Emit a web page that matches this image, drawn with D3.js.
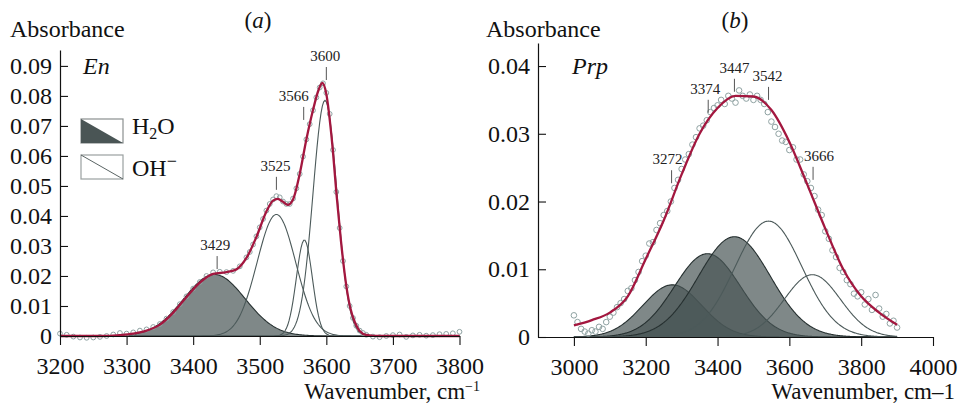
<!DOCTYPE html>
<html>
<head>
<meta charset="utf-8">
<script src="https://cdn.jsdelivr.net/npm/d3@7"></script>
<style>
  body { margin: 0; background: #fff; }
  svg { display: block; }
</style>
</head>
<body>
<div id="chart"></div>
<script>
// ---- data ----

// (a) En : fitted bands (centre cm-1, height, sigma cm-1)
const bandCentreA = [3432, 3525, 3567, 3598];
const bandHeightA = [0.0205, 0.0405, 0.032, 0.0785];
const bandSigmaA = [46, 29, 12, 18];
const bandKindA = ['H2O', 'OH', 'OH', 'OH'];

// (b) Prp : fitted bands
const bandCentreB = [3274, 3372, 3447, 3542, 3664];
const bandHeightB = [0.0077, 0.0123, 0.0148, 0.0171, 0.0092];
const bandSigmaB = [82, 92, 100, 93, 78];
const bandKindB = ['H2O', 'H2O', 'H2O', 'OH', 'OH'];

// peak marks: label, wavenumber, absorbance where the mark ends
const peakLabelA = ['3429', '3525', '3566', '3600'];
const peakWaveA = [3436, 3525, 3566, 3600];
const peakLevelA = [0.0223, 0.0487, 0.072, 0.0853];

const peakLabelB = ['3272', '3374', '3447', '3542', '3666'];
const peakWaveB = [3272, 3374, 3447, 3542, 3666];
const peakLevelB = [0.0227, 0.0331, 0.0362, 0.035, 0.0232];

// envelope of the fit (red)
const fitA = [[3200, 0], [3260, 0], [3290, 0.0003], [3310, 0.0008], [3330, 0.0018], [3350, 0.0038],
  [3370, 0.0078], [3390, 0.0130], [3410, 0.0178], [3430, 0.0207], [3450, 0.0213], [3465, 0.0222],
  [3480, 0.0260], [3495, 0.0330], [3510, 0.0415], [3520, 0.0451], [3527, 0.0457], [3535, 0.0447],
  [3542, 0.0437], [3550, 0.0455], [3560, 0.0540], [3570, 0.0655], [3580, 0.0753], [3588, 0.0818],
  [3594, 0.0843], [3600, 0.0806], [3608, 0.0660], [3616, 0.0455], [3622, 0.0316], [3630, 0.0167],
  [3636, 0.0093], [3643, 0.0045], [3650, 0.0017], [3660, 0.0004], [3680, 0], [3800, 0]];

const fitB = [[3000, 0.0017], [3050, 0.0025], [3100, 0.0036], [3150, 0.0060], [3200, 0.0115],
  [3250, 0.0172], [3300, 0.0240], [3350, 0.0300], [3400, 0.0338], [3450, 0.0356], [3500, 0.0355],
  [3550, 0.0335], [3600, 0.0288], [3650, 0.0225], [3700, 0.0160], [3750, 0.0100], [3800, 0.0060],
  [3850, 0.0036], [3900, 0.0018]];

// measured spectrum (grey circles)
const obsA = [[3200, .0008], [3210, .0004], [3220, -.0002], [3230, -.0005], [3240, -.0006], [3250, -.0005],
  [3260, -.0003], [3270, 0], [3280, .0005], [3290, .0010], [3300, .0008], [3310, .0012], [3320, .0018],
  [3330, .0022], [3340, .0030], [3350, .0040], [3360, .0058], [3370, .0080], [3380, .0106], [3390, .0132],
  [3400, .0158], [3410, .0180], [3420, .0200], [3430, .0212], [3440, .0214], [3450, .0213], [3460, .0217],
  [3470, .0232], [3480, .0262], [3485, .0280], [3490, .0305], [3495, .0332], [3500, .0362], [3505, .0390],
  [3510, .0418], [3515, .0440], [3520, .0455], [3525, .0466], [3530, .0462], [3535, .0448], [3540, .0440],
  [3545, .0440], [3550, .0458], [3555, .0492], [3560, .0540], [3565, .0598], [3570, .0655], [3575, .0706],
  [3580, .0752], [3585, .0795], [3590, .0828], [3595, .0842], [3600, .0810], [3605, .0740], [3610, .0620],
  [3615, .0480], [3620, .0360], [3625, .0250], [3630, .0165], [3635, .0100], [3640, .0060], [3645, .0034],
  [3650, .0018], [3655, .0010], [3660, .0004], [3670, -.0002], [3680, -.0004], [3690, 0], [3700, .0003],
  [3710, .0005], [3720, -.0003], [3730, .0002], [3740, .0004], [3750, .0001], [3760, .0003], [3770, .0006],
  [3780, .0007], [3790, .0009], [3800, .0014]];

const obsB = [[3000, .0032], [3010, .0022], [3020, .0012], [3030, .0008], [3040, .0005], [3050, .0010],
  [3060, .0008], [3070, .0015], [3080, .0012], [3090, .0022], [3100, .0030], [3110, .0036], [3120, .0044],
  [3130, .0050], [3140, .0056], [3150, .0068], [3160, .0072], [3170, .0084], [3180, .0096], [3190, .0112],
  [3200, .0120], [3210, .0138], [3220, .0140], [3230, .0158], [3240, .0168], [3250, .0180], [3260, .0186],
  [3270, .0200], [3280, .0220], [3290, .0232], [3300, .0248], [3310, .0262], [3320, .0270], [3330, .0284],
  [3340, .0295], [3350, .0308], [3360, .0312], [3370, .0320], [3380, .0332], [3390, .0338], [3400, .0342],
  [3410, .0350], [3420, .0344], [3430, .0356], [3440, .0352], [3450, .0346], [3460, .0364], [3470, .0356],
  [3480, .0352], [3490, .0358], [3500, .0350], [3510, .0356], [3520, .0350], [3530, .0344], [3540, .0332],
  [3550, .0318], [3560, .0310], [3570, .0300], [3580, .0290], [3590, .0288], [3600, .0276], [3610, .0280],
  [3620, .0262], [3630, .0262], [3640, .0240], [3650, .0230], [3660, .0220], [3670, .0208], [3680, .0188],
  [3690, .0180], [3700, .0156], [3710, .0145], [3720, .0128], [3730, .0118], [3740, .0102], [3750, .0096],
  [3760, .0084], [3770, .0078], [3780, .0064], [3790, .0060], [3800, .0066], [3810, .0048], [3820, .0056],
  [3830, .0040], [3840, .0062], [3850, .0042], [3860, .0030], [3870, .0034], [3880, .0020], [3890, .0024],
  [3900, .0014]];

// axis ticks
const xTicksA = d3.range(3200, 3801, 100);
const yTicksA = [0, 0.01, 0.02, 0.03, 0.04, 0.05, 0.06, 0.07, 0.08, 0.09];
const xTicksB = d3.range(3000, 4001, 200);
const yTicksB = [0, 0.01, 0.02, 0.03, 0.04];

// ---- drawing ----
const w = 958;
const h = 404;
const red = '#a3173f';
const bandFill = '#485656';
const serif = 'Liberation Serif';

const svg = d3.select('#chart').append('svg')
  .attr('width', w)
  .attr('height', h);

// every text gets the font set on itself
const txt = (sel, size) => sel.append('text')
  .style('font-family', serif)
  .attr('font-size', size)
  .attr('fill', '#111');

const gauss = (c, a, s) => x => a * Math.exp(-((x - c) * (x - c)) / (2 * s * s));

function drawPanel(p) {
  const x = d3.scaleLinear().domain(p.xDomain).range(p.xRange);
  const y = d3.scaleLinear().domain(p.yDomain).range(p.yRange);
  const g = svg.append('g');

  // bands
  const grid = d3.range(p.bandSpan[0], p.bandSpan[1] + 0.1, 2);
  const area = d3.area().x(d => x(d[0])).y0(y(0)).y1(d => y(d[1]));
  const line = d3.line().x(d => x(d[0])).y(d => y(d[1]));
  p.centres.forEach((c, i) => {
    const f = gauss(c, p.heights[i], p.sigmas[i]);
    const pts = grid.map(v => [v, f(v)]);
    if (p.kinds[i] === 'H2O') {
      g.append('path').datum(pts)
        .attr('d', area)
        .attr('fill', bandFill)
        .attr('fill-opacity', 0.7);
    }
    g.append('path').datum(pts)
      .attr('d', line)
      .attr('fill', 'none')
      .attr('stroke', p.kinds[i] === 'H2O' ? '#263030' : '#4c5a5a')
      .attr('stroke-width', 1.1);
  });

  // measured points
  g.selectAll('circle.obs')
    .data(p.obs)
    .join('circle')
    .attr('class', 'obs')
    .attr('cx', d => x(d[0]))
    .attr('cy', d => y(d[1]))
    .attr('r', p.r)
    .attr('fill', 'none')
    .attr('stroke', '#8fa2a2')
    .attr('stroke-width', 1);

  // fit envelope
  g.append('path').datum(p.fit)
    .attr('d', d3.line().curve(d3.curveMonotoneX).x(d => x(d[0])).y(d => y(d[1])))
    .attr('fill', 'none')
    .attr('stroke', red)
    .attr('stroke-width', 2.3);

  // axes
  const xAxis = d3.axisBottom(x).tickValues(p.xTicks).tickFormat(d3.format('d'))
    .tickSizeInner(9).tickSizeOuter(0).tickPadding(12);
  const yAxis = d3.axisLeft(y).tickValues(p.yTicks).tickFormat(d => d === 0 ? '0' : d.toFixed(2))
    .tickSizeInner(-8).tickSizeOuter(0).tickPadding(8);

  g.append('g')
    .attr('transform', `translate(0,${y(0)})`)
    .call(xAxis);
  g.append('g')
    .attr('transform', `translate(${p.xRange[0]},0)`)
    .call(yAxis);

  g.selectAll('.domain').attr('stroke', '#111').attr('stroke-width', 1.2);
  g.selectAll('.tick line').attr('stroke', '#111').attr('stroke-width', 1.1);
  g.selectAll('.tick text')
    .style('font-family', serif)
    .attr('font-size', 24)
    .attr('fill', '#111');

  // peak marks
  p.peakLabels.forEach((lab, i) => {
    const px = x(p.peakWaves[i]);
    const yb = y(p.peakLevels[i]);
    g.append('line')
      .attr('x1', px).attr('x2', px)
      .attr('y1', yb).attr('y2', yb - 13)
      .attr('stroke', '#555')
      .attr('stroke-width', 1);
    txt(g, 15)
      .attr('x', px + (p.labelShift[i] || 0))
      .attr('y', yb - 19)
      .attr('text-anchor', 'middle')
      .attr('fill', '#222')
      .text(lab);
  });

  // titles
  txt(g, 24).attr('x', p.absX).attr('y', 37).text('Absorbance');

  const t = txt(g, 23).attr('x', p.panelX).attr('y', 28).attr('text-anchor', 'middle');
  t.append('tspan').text('(');
  t.append('tspan').attr('font-style', 'italic').text(p.panel);
  t.append('tspan').text(')');

  txt(g, 24).attr('x', p.nameX).attr('y', 74).attr('font-style', 'italic').text(p.name);

  const wt = txt(g, 23).attr('x', p.wnX).attr('y', 399).attr('text-anchor', 'end');
  if (p.superUnit) {
    wt.append('tspan').text('Wavenumber, cm');
    wt.append('tspan').attr('font-size', 14).attr('dy', -8).text('\u22121');
  } else {
    wt.text('Wavenumber, cm\u20131');
  }
}

drawPanel({
  xDomain: [3200, 3800], xRange: [60, 459.5],
  yDomain: [0, 0.0953], yRange: [336, 50],
  bandSpan: [3200, 3800],
  centres: bandCentreA, heights: bandHeightA, sigmas: bandSigmaA, kinds: bandKindA,
  obs: obsA, fit: fitA, r: 2.4,
  xTicks: xTicksA, yTicks: yTicksA,
  peakLabels: peakLabelA, peakWaves: peakWaveA, peakLevels: peakLevelA,
  labelShift: [-2, -1, -10, -1],
  absX: 10, panelX: 258, panel: 'a', nameX: 83, name: 'En',
  wnX: 480, superUnit: true
});

drawPanel({
  xDomain: [2900, 4000], xRange: [538, 933],
  yDomain: [0, 0.0434], yRange: [337, 43],
  bandSpan: [3000, 3900],
  centres: bandCentreB, heights: bandHeightB, sigmas: bandSigmaB, kinds: bandKindB,
  obs: obsB, fit: fitB, r: 2.8,
  xTicks: xTicksB, yTicks: yTicksB,
  peakLabels: peakLabelB, peakWaves: peakWaveB, peakLevels: peakLevelB,
  labelShift: [-4, -3, 0, -1, 6],
  absX: 486, panelX: 735, panel: 'b', nameX: 572, name: 'Prp',
  wnX: 955, superUnit: false
});

// legend (panel a)
const leg = svg.append('g');
leg.append('rect')
  .attr('x', 81).attr('y', 119).attr('width', 42).attr('height', 24)
  .attr('fill', '#fff').attr('stroke', '#8a8f8f').attr('stroke-width', 1.2);
leg.append('path')
  .attr('d', 'M81,119 L123,143 L81,143 Z')
  .attr('fill', '#4a5555');
leg.append('rect')
  .attr('x', 81).attr('y', 155).attr('width', 42).attr('height', 24)
  .attr('fill', '#fff').attr('stroke', '#9aa0a0').attr('stroke-width', 1.2);
leg.append('line')
  .attr('x1', 81).attr('y1', 155).attr('x2', 123).attr('y2', 179)
  .attr('stroke', '#5a6464').attr('stroke-width', 1);

const h2o = txt(leg, 24).attr('x', 132).attr('y', 134);
h2o.append('tspan').text('H');
h2o.append('tspan').attr('font-size', 16).attr('dy', 5).text('2');
h2o.append('tspan').attr('dy', -5).text('O');

const oh = txt(leg, 24).attr('x', 132).attr('y', 176);
oh.append('tspan').text('OH');
oh.append('tspan').attr('font-size', 18).attr('dy', -9).text('\u2212');
</script>
</body>
</html>
